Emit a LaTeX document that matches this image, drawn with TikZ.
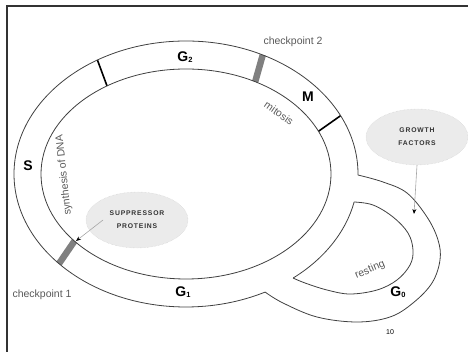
\documentclass[tikz,border=0pt]{standalone}
\usepackage{fontspec}
\setmainfont{Liberation Sans}
\usetikzlibrary{calc,shapes.geometric,arrows.meta}

\newcommand{\phasesub}[1]{\raisebox{-0.5pt}{\fontsize{7.5}{7.5}\selectfont #1}}

\tikzset{
  ring/.style={line width=0.8pt, black!75},
  phase/.style={font=\fontsize{14}{14}\selectfont\bfseries},
  note/.style={font=\fontsize{10.5}{12}\selectfont, text=black!65, inner sep=0.5pt},
  divider/.style={line width=1.6pt, black},
  checkbar/.style={line width=6.5pt, black!50},
  factor/.style={ellipse, fill=black!8, draw=black!20, densely dotted, minimum width=102pt, minimum height=56pt, inner sep=0pt, align=center, text=black!80,
    font=\fontsize{6.8}{13}\selectfont\bfseries\addfontfeatures{LetterSpace=12}},
  pointer/.style={black!35, line width=0.6pt, -{Stealth[length=5pt,width=4pt,color=black]}}
}

\begin{document}
\begin{tikzpicture}[x=1pt,y=1pt]
\useasboundingbox (0,0) rectangle (468,352);
% frame
\draw[line width=1.5pt, black!80] (7,0) -- (7,346) -- (468,346);

\coordinate (c) at (186,178);

% checkpoints and phase borders
\draw[checkbar] ($(c)+(63.5:172 and 133)$) -- ($(c)+(61.5:145 and 105)$);
\draw[checkbar] ($(c)+(222.4:172 and 133)$) -- ($(c)+(219.7:145 and 105)$);
\draw[divider] ($(c)+(121:172 and 133)$) -- ($(c)+(123:145 and 105)$);
\draw[divider] ($(c)+(26:172 and 133)$) -- ($(c)+(24:145 and 105)$);

% main ring
\draw[ring] (c) ++(-0.5:172 and 133) arc[start angle=-0.5, end angle=297.3, x radius=172, y radius=133];
\draw[ring] (c) ++(-51.4:172 and 133) arc[start angle=-51.4, end angle=-12.2, x radius=172, y radius=133];
\draw[ring] (c) ellipse[x radius=145, y radius=105];

% G0 loop
\draw[ring] plot[smooth, tension=0.6] coordinates {(358,177) (383,170) (407,159) (427,135) (438,112) (440,92) (432,69) (413,49) (390,35) (357,30) (317,35) (283,49) (265,60)};
\draw[ring] plot[smooth, tension=0.6] coordinates {(354,150) (373,147) (393,135) (408,119) (413,102) (410,87) (397,72) (377,62) (350,58) (327,62) (305,69) (293,74)};

% labels
\node[phase] (g2) at (185,295) {G\phasesub{2}};
\node[phase] (m) at (308,255) {M};
\node[phase] (s) at (28,186) {S};
\node[phase] (g1) at (183,60) {G\phasesub{1}};
\node[phase] (g0) at (398,60) {G\phasesub{0}};
\node[note] (cp2) at (293,310) {checkpoint 2};
\node[note] (cp1) at (42,57) {checkpoint 1};
\node[note, rotate=-35] (mit) at (279,239) {mitosis};
\node[note, rotate=96] (dna) at (64,177) {synthesis of DNA};
\node[note, rotate=23] (rest) at (370,82) {resting};
\node[font=\fontsize{7}{7}\selectfont] (pg) at (390,20) {10};

% regulators
\node[factor] (supp) at (137,132) {SUPPRESSOR\\PROTEINS};
\node[factor] (grow) at (417,215) {GROWTH\\FACTORS};
\coordinate (cp1tip) at (76,111);
\coordinate (g0tip) at (414,138);
\draw[pointer] ([xshift=-34pt]supp.center) -- (cp1tip);
\draw[pointer] (grow.south) -- (g0tip);
\end{tikzpicture}
\end{document}
